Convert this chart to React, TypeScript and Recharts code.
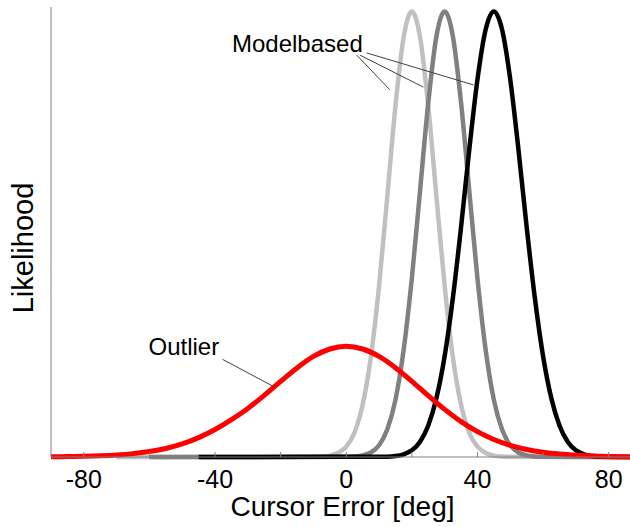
import React from 'react';
import { LineChart, Line, XAxis, YAxis, ReferenceLine, ReferenceDot } from 'recharts';

// Likelihood curves over cursor error (deg)
const outlierAngles = [
  -90, -85, -80, -75, -70, -65, -60, -55, -50, -45, -40, -35, -30, -25, -20, -15, -10, -5, 0,
  5, 10, 15, 20, 25, 30, 35, 40, 45, 50, 55, 60, 65, 70, 75, 80, 85, 86.5,
];
const outlierValues = [
  0.0005, 0.0009, 0.0016, 0.0027, 0.0045, 0.0075, 0.0122, 0.019, 0.029, 0.043, 0.061, 0.083, 0.108, 0.137, 0.168, 0.198, 0.2235, 0.240, 0.246,
  0.240, 0.2235, 0.1985, 0.1682, 0.1363, 0.1058, 0.0787, 0.0563, 0.0389, 0.0259, 0.0168, 0.0105, 0.0065, 0.0039, 0.0023, 0.00135, 0.0008, 0.0007,
];

const lightAngles = [
  -70, -10, -7.5, -5, -2.5, 0, 2.5, 5, 7.5, 10, 12.5, 15, 17.5, 20,
  22.5, 25, 27.5, 30, 32.5, 35, 37.5, 40, 42.5, 45, 47.5, 50, 86.5,
];
const lightValues = [
  0, 0.0003, 0.001, 0.003, 0.009, 0.023, 0.054, 0.116, 0.222, 0.38, 0.578, 0.78, 0.933, 0.99,
  0.933, 0.78, 0.578, 0.38, 0.222, 0.116, 0.054, 0.023, 0.009, 0.003, 0.001, 0.0003, 0,
];

const midAngles = [
  -60, 0, 2.5, 5, 7.5, 10, 12.5, 15, 17.5, 20, 22.5, 25, 27.5, 30,
  32.5, 35, 37.5, 40, 42.5, 45, 47.5, 50, 52.5, 55, 57.5, 60, 86.5,
];
const midValues = [
  0, 0.0003, 0.0011, 0.0035, 0.01, 0.026, 0.061, 0.127, 0.238, 0.397, 0.592, 0.787, 0.935, 0.99,
  0.935, 0.787, 0.592, 0.397, 0.238, 0.127, 0.061, 0.026, 0.01, 0.0035, 0.0011, 0.0003, 0,
];

const darkAngles = [
  -45, 12.5, 15, 17.5, 20, 22.5, 25, 27.5, 30, 32.5, 35, 37.5, 40, 42.5, 45,
  47.5, 50, 52.5, 55, 57.5, 60, 62.5, 65, 67.5, 70, 72.5, 75, 77.5, 86.5,
];
const darkValues = [
  0, 0.0007, 0.002, 0.006, 0.015, 0.034, 0.07, 0.131, 0.224, 0.353, 0.511, 0.683, 0.839, 0.95, 0.99,
  0.95, 0.839, 0.683, 0.511, 0.353, 0.224, 0.131, 0.07, 0.034, 0.015, 0.006, 0.002, 0.0007, 0,
];

const xTicks = [-80, -60, -40, -20, 0, 20, 40, 60, 80];

// callout leader lines, as [from, to] in data units
const modelbasedLeaders = [
  [{ x: 3.2, y: 0.893 }, { x: 13.3, y: 0.816 }],
  [{ x: 4.2, y: 0.893 }, { x: 23.5, y: 0.822 }],
  [{ x: 6.2, y: 0.898 }, { x: 38.7, y: 0.827 }],
];
const outlierLeader = [{ x: -37.7, y: 0.217 }, { x: -22.0, y: 0.156 }];

const font = '"Liberation Sans", Arial, Helvetica, sans-serif';
const axisColor = '#808080';

const toPoints = (angles: number[], values: number[]) =>
  angles.map((angle, i) => ({ angle, value: values[i] }));

const AngleTick = ({ x, y, payload }: any) => (
  <g>
    <line x1={x} x2={x} y1={y} y2={y - 5} stroke={axisColor} strokeWidth={1} />
    {payload.value % 40 === 0 && (
      <text x={x} y={y + 31} textAnchor="middle" fontSize={25} fontFamily={font} fill="#000">
        {payload.value}
      </text>
    )}
  </g>
);

const XTitle = ({ viewBox }: any) => {
  const vb = viewBox ?? { x: 51, y: 457, width: 579, height: 70 };
  return (
    <text x={vb.x + vb.width / 2 + 2} y={vb.y + 58.5} textAnchor="middle" fontSize={28} fontFamily={font} fill="#000">
      Cursor Error [deg]
    </text>
  );
};

const YTitle = ({ viewBox }: any) => {
  const vb = viewBox ?? { x: 0, y: 7, width: 51, height: 450 };
  const cx = vb.x + 33;
  const cy = vb.y + vb.height / 2 + 16;
  return (
    <text x={cx} y={cy} transform={`rotate(-90, ${cx}, ${cy})`} textAnchor="middle" fontSize={29} fontFamily={font} fill="#000">
      Likelihood
    </text>
  );
};

const CalloutText = ({ viewBox, text }: any) => (
  <text x={viewBox.x} y={viewBox.y} textAnchor="middle" fontSize={24} fontFamily={font} fill="#000">
    {text}
  </text>
);

export default function App() {
  return (
    <div style={{ position: 'absolute', left: 0, top: 0, width: 630, height: 527, background: '#fff' }}>
      <LineChart width={630} height={527} margin={{ top: 7, right: 0, left: 0, bottom: 0 }}>
        <XAxis
          type="number"
          dataKey="angle"
          domain={[-90, 86.5]}
          ticks={xTicks}
          height={70}
          tickSize={0}
          tickMargin={0}
          tickLine={false}
          tick={<AngleTick />}
          axisLine={{ stroke: axisColor, strokeWidth: 1 }}
          label={<XTitle />}
        />
        <YAxis
          type="number"
          domain={[0, 1]}
          width={51}
          tick={false}
          tickLine={false}
          axisLine={{ stroke: axisColor, strokeWidth: 1 }}
          label={<YTitle />}
        />
        <Line data={toPoints(lightAngles, lightValues)} dataKey="value" type="monotone" stroke="#c0c0c0" strokeWidth={4.5} dot={false} isAnimationActive={false} />
        <Line data={toPoints(midAngles, midValues)} dataKey="value" type="monotone" stroke="#808080" strokeWidth={4.5} dot={false} isAnimationActive={false} />
        <Line data={toPoints(darkAngles, darkValues)} dataKey="value" type="monotone" stroke="#000000" strokeWidth={4.5} dot={false} isAnimationActive={false} />
        <Line data={toPoints(outlierAngles, outlierValues)} dataKey="value" type="monotone" stroke="#ff0000" strokeWidth={5} dot={false} isAnimationActive={false} />
        {modelbasedLeaders.map((seg, i) => (
          <ReferenceLine key={i} segment={seg} stroke="#404040" strokeWidth={1} />
        ))}
        <ReferenceLine segment={outlierLeader} stroke="#404040" strokeWidth={1} />
        <ReferenceDot x={-14.9} y={0.9} r={0} fill="none" stroke="none" label={<CalloutText text="Modelbased" />} />
        <ReferenceDot x={-49.5} y={0.2267} r={0} fill="none" stroke="none" label={<CalloutText text="Outlier" />} />
      </LineChart>
    </div>
  );
}
